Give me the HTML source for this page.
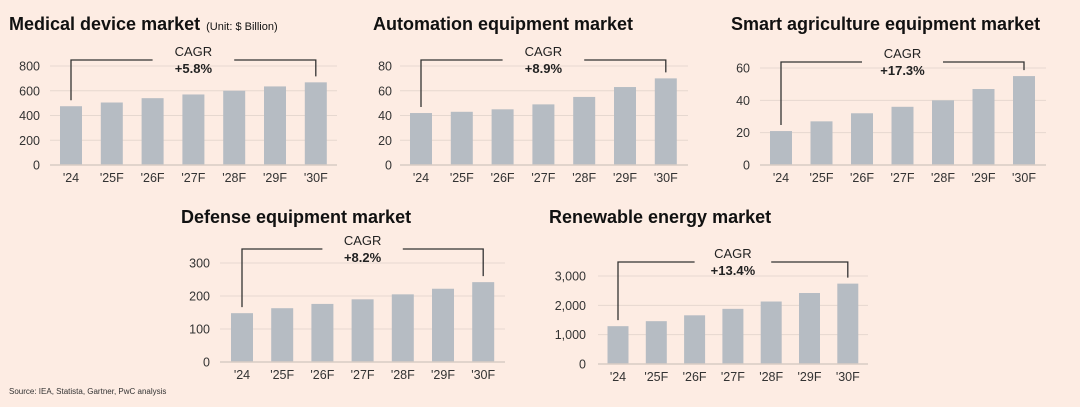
<!DOCTYPE html>
<html><head><meta charset="utf-8">
<style>
html,body{margin:0;padding:0;background:#fdece3;}
svg{display:block;font-family:"Liberation Sans",Arial,sans-serif;}
</style></head>
<body>
<svg id="c" width="1080" height="407" viewBox="0 0 1080 407">
<rect width="1080" height="407" fill="#fdece3"/>
</svg>
<script>
const categories = ["'24","'25F","'26F","'27F","'28F","'29F","'30F"];
const medicalValues = [475,505,540,570,600,635,668];
const medicalTicks = [0,200,400,600,800];
const automationValues = [42,43,45,49,55,63,70];
const automationTicks = [0,20,40,60,80];
const agricultureValues = [21,27,32,36,40,47,55];
const agricultureTicks = [0,20,40,60];
const defenseValues = [148,163,176,190,205,222,242];
const defenseTicks = [0,100,200,300];
const renewableValues = [1290,1460,1660,1880,2130,2420,2740];
const renewableTicks = [0,1000,2000,3000];
const tickLabelsRenewable = ["0","1,000","2,000","3,000"];
const cagrs = ["+5.8%","+8.9%","+17.3%","+8.2%","+13.4%"];

const NS="http://www.w3.org/2000/svg";
const svg=document.getElementById('c');
function mk(tag,attrs,parent){const e=document.createElementNS(NS,tag);for(const k in attrs)e.setAttribute(k,attrs[k]);(parent||svg).appendChild(e);return e;}

function drawChart(id,title,sub,values,ticks,tickLabels,cagr,L){
  const g=mk('g',{});
  
  
  const maxT=ticks[ticks.length-1];
  const y=v=>L.base-(v/maxT)*(L.base-L.top);
  const xc=i=>L.first+i*L.pitch;
  const t=mk('text',{x:L.tx,y:L.ty,'font-size':18,'font-weight':'bold',fill:'#111'},g);
  t.textContent=title;
  
  
  if(sub){const s=mk('tspan',{'font-size':11,'font-weight':'normal',dx:6},t);s.textContent=sub;}
  ticks.forEach((v,i)=>{
    if(i>0){const gl=mk('line',{x1:L.ax0,x2:L.ax1,y1:y(v),y2:y(v),stroke:'#e6d8d0','stroke-width':1},g);
      
      }
    const tl=mk('text',{x:L.lx,y:y(v)+4.5,'font-size':12.5,'text-anchor':'end',fill:'#333'},g);
    tl.textContent=tickLabels?tickLabels[i]:String(v);
    
    
  });
  values.forEach((v,i)=>{
    const b=mk('rect',{x:xc(i)-L.bw/2,y:y(v),width:L.bw,height:L.base-y(v),fill:'#b6bcc3'},g);
    
    
    const c=mk('text',{x:xc(i),y:L.base+17,'font-size':12.5,'text-anchor':'middle',fill:'#333'},g);
    c.textContent=categories[i];
    
    
  });
  const ax=mk('line',{x1:L.ax0,x2:L.ax1,y1:L.base,y2:L.base,stroke:'#d8ccc5','stroke-width':1.5},g);
  
  
  const by=L.by, n=values.length-1;
  const br=mk('path',{d:`M${xc(0)},${y(values[0])-6} V${by} H${xc(2)} M${xc(4)},${by} H${xc(n)} V${y(values[n])-6}`,fill:'none',stroke:'#333','stroke-width':1.3},g);
  
  
  const c1=mk('text',{x:xc(3),y:by-4,'font-size':13,'text-anchor':'middle',fill:'#222'},g);
  c1.textContent='CAGR';
  
  
  const c2=mk('text',{x:xc(3),y:by+13,'font-size':13,'font-weight':'bold','text-anchor':'middle',fill:'#222'},g);
  c2.textContent=cagr;
  
  
}

drawChart('medical','Medical device market','(Unit: $ Billion)',medicalValues,medicalTicks,null,cagrs[0],
 {tx:9,ty:30,lx:40,ax0:50,ax1:337,base:165,top:66,first:71,pitch:40.8,bw:22,by:60});
drawChart('automation','Automation equipment market','',automationValues,automationTicks,null,cagrs[1],
 {tx:373,ty:30,lx:392,ax0:400,ax1:688,base:165,top:66,first:421,pitch:40.8,bw:22,by:60});
drawChart('agriculture','Smart agriculture equipment market','',agricultureValues,agricultureTicks,null,cagrs[2],
 {tx:731,ty:30,lx:750,ax0:760,ax1:1046,base:165,top:68,first:781,pitch:40.5,bw:22,by:62});
drawChart('defense','Defense equipment market','',defenseValues,defenseTicks,null,cagrs[3],
 {tx:181,ty:223,lx:210,ax0:220,ax1:505,base:362,top:263,first:242,pitch:40.2,bw:22,by:249});
drawChart('renewable','Renewable energy market','',renewableValues,renewableTicks,tickLabelsRenewable,cagrs[4],
 {tx:549,ty:223,lx:586,ax0:598,ax1:868,base:364,top:276,first:618,pitch:38.3,bw:21,by:262});

const src=mk('text',{x:9,y:394,'font-size':8,fill:'#333'});
src.textContent='Source: IEA, Statista, Gartner, PwC analysis';


</script>
</body></html>
